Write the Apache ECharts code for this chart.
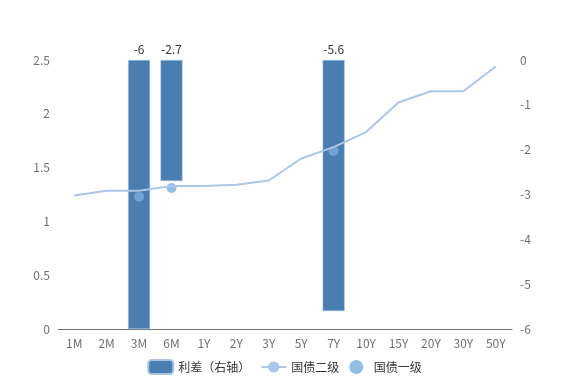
<!DOCTYPE html>
<html><head><meta charset="utf-8">
<script src="https://cdn.jsdelivr.net/npm/echarts@6/dist/echarts.min.js"></script>
<style>html,body{margin:0;padding:0;background:#fff}#c{width:569px;height:380px}</style>
</head><body><div id="c"></div>
<script>
const categories = ['1M','2M','3M','6M','1Y','2Y','3Y','5Y','7Y','10Y','15Y','20Y','30Y','50Y'];
const spread = [null,null,-6,-2.7,null,null,null,null,-5.6,null,null,null,null,null];
const level2 = [1.24,1.285,1.285,1.33,1.33,1.34,1.38,1.585,1.69,1.83,2.105,2.21,2.21,2.44];
const level1 = [null,null,1.23,1.31,null,null,null,null,1.655,null,null,null,null,null];
const leftTicks = {min:0,max:2.5,interval:0.5};
const rightTicks = {min:-6,max:0,interval:1};

const font = '"Noto Sans CJK SC", "Microsoft YaHei", sans-serif';
const chart = echarts.init(document.getElementById('c'));
chart.setOption({
  animation:false,
  textStyle:{fontFamily:font},
  grid:{left:58,right:57,top:60,bottom:51},
  legend:{bottom:0,itemGap:10,itemWidth:25,itemHeight:14,textStyle:{color:'#333',fontSize:12,fontFamily:font},
    data:['利差（右轴）','国债二级','国债一级']},
  xAxis:{type:'category',data:categories,
    axisLine:{lineStyle:{color:'#6e7079'}},axisTick:{lineStyle:{color:'#6e7079'}},
    axisLabel:{color:'#6e7079',fontSize:12,fontFamily:font,margin:8}},
  yAxis:[
    {type:'value',min:leftTicks.min,max:leftTicks.max,interval:leftTicks.interval,splitLine:{show:false},
     axisLine:{show:false},axisLabel:{color:'#6e7079',fontSize:12,fontFamily:font}},
    {type:'value',min:rightTicks.min,max:rightTicks.max,interval:rightTicks.interval,splitLine:{show:false},
     axisLine:{show:false},axisLabel:{color:'#6e7079',fontSize:12,fontFamily:font}}
  ],
  series:[
    {name:'利差（右轴）',type:'bar',yAxisIndex:1,data:spread,barWidth:22,
     itemStyle:{color:'#4a7eb0',borderColor:'#a9c4e6',borderWidth:0.5},
     label:{show:true,position:'top',color:'#333',fontSize:12,fontFamily:font}},
    {name:'国债二级',type:'line',data:level2,symbol:'circle',symbolSize:8,showSymbol:false,
     lineStyle:{color:'#aac6e8',width:2},itemStyle:{color:'#aac6e8'}},
    {name:'国债一级',type:'scatter',data:level1,symbolSize:10,itemStyle:{color:'#78acdc'}}
  ]
});
</script></body></html>
